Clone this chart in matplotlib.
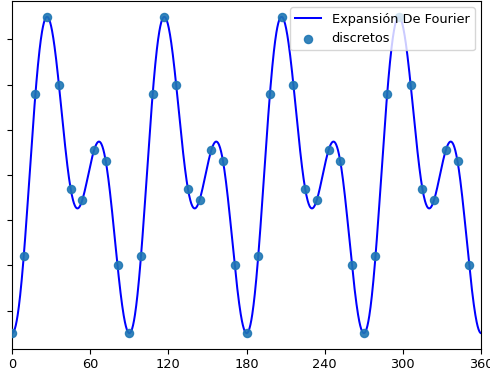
#coding: utf-8
import numpy as np
import matplotlib
matplotlib.use('Agg')
import matplotlib.pyplot as plt

'''
puntos discretos (grados, valor) y su expansion de Fourier
'''

x_disc=[0,9,18,27,36,45,54,63,72,81,
	90,99,108,117,126,135,144,153,162,171,
	180,189,198,207,216,225,234,243,252,261,
	270,279,288,297,306,315,324,333,342,351]
y_disc=[-3.5,-1.8,1.8,3.5,2.0,-0.3,-0.55,0.55,0.3,-2.0,
	-3.5,-1.8,1.8,3.5,2.0,-0.3,-0.55,0.55,0.3,-2.0,
	-3.5,-1.8,1.8,3.5,2.0,-0.3,-0.55,0.55,0.3,-2.0,
	-3.5,-1.8,1.8,3.5,2.0,-0.3,-0.55,0.55,0.3,-2.0]

x_ticks=[0,60,120,180,240,300,360]
y_ticks=[-3,-2,-1,0,1,2,3]


def fourier_expansion(yd,t):
	n=len(yd)
	c=np.fft.rfft(yd)/n
	f=np.full_like(t,c[0].real)
	for k in range(1,len(c)):
		w=1.0 if (n%2==0 and k==n//2) else 2.0
		f+=w*(c[k].real*np.cos(k*t)-c[k].imag*np.sin(k*t))
	return f


plt.rcParams['font.size']=9.3
plt.rcParams['xtick.major.size']=3.3
plt.rcParams['ytick.major.size']=3.3

x_fino=np.linspace(0,360,1500)
y_fino=fourier_expansion(np.array(y_disc),np.radians(x_fino))

fig=plt.figure(figsize=(4.9,3.79),dpi=100)
ax=fig.add_axes([12/490,30/379,469/490,348/379])
ax.plot(x_fino,y_fino,color='blue',lw=1.45,label='Expansión De Fourier')
ax.scatter(x_disc,y_disc,color='#1f77b4',s=34,alpha=0.9,zorder=3,label='discretos')
ax.set_xlim(0,360)
ax.set_xticks(x_ticks)
ax.set_yticks(y_ticks)
ax.set_yticklabels([])
ax.legend(loc='upper right')
fig.savefig('out.png',dpi=100)
